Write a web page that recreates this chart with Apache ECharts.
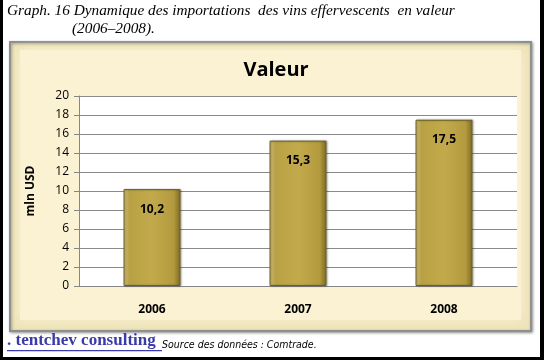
<!DOCTYPE html>
<html>
<head>
<meta charset="utf-8">
<script src="https://cdn.jsdelivr.net/npm/echarts@6/dist/echarts.min.js"></script>
<style>
html,body{margin:0;padding:0;background:#fff;}
#c{width:544px;height:360px;}
</style>
</head>
<body>
<div id="c"></div>
<script>
const categories = ['2006', '2007', '2008'];
const values = [10.2, 15.3, 17.5];
const valueLabels = ['10,2', '15,3', '17,5'];
const yTicks = [0, 2, 4, 6, 8, 10, 12, 14, 16, 18, 20];

const chart = echarts.init(document.getElementById('c'), null, {renderer: 'canvas'});
const barColor = {
  type: 'linear', x: 0, y: 0, x2: 1, y2: 0,
  colorStops: [
    {offset: 0, color: '#d6c583'},
    {offset: 0.1, color: '#b8a044'},
    {offset: 0.5, color: '#c2aa4c'},
    {offset: 0.88, color: '#b39a3e'},
    {offset: 1, color: '#7d6b24'}
  ]
};
const option = {
  animation: false,
  graphic: [
    // outer black frame
    {type: 'rect', z: 0, shape: {x: 0, y: 0, width: 3, height: 360}, style: {fill: '#000'}},
    {type: 'rect', z: 0, shape: {x: 540, y: 0, width: 4, height: 360}, style: {fill: '#000'}},
    {type: 'rect', z: 0, shape: {x: 0, y: 357, width: 544, height: 3}, style: {fill: '#000'}},
    // chart panel
    {type: 'rect', z: -10, shape: {x: 10, y: 42, width: 521, height: 289},
      style: {fill: '#eee3b9', stroke: '#8e8e8e', lineWidth: 2,
        shadowBlur: 3, shadowColor: 'rgba(0,0,0,0.35)', shadowOffsetX: 1, shadowOffsetY: 1}},
    {type: 'rect', z: -9, shape: {x: 20, y: 50, width: 501, height: 270},
      style: {fill: '#faf2d2', shadowBlur: 10, shadowColor: '#faf2d2'}},
    // top caption
    {type: 'text', left: 7, top: 3, style: {text: 'Graph. 16 Dynamique des importations  des vins effervescents  en valeur',
      font: 'italic 15.3px "Liberation Serif"', fill: '#000'}},
    {type: 'text', left: 72, top: 21, style: {text: '(2006\u20132008).',
      font: 'italic 15.3px "Liberation Serif"', fill: '#000'}},
    // footer
    {type: 'text', left: 7, top: 332, style: {text: '. tentchev consulting',
      font: 'bold 17px "Liberation Serif"', fill: '#3a3aa8'}},
    {type: 'rect', left: 7, top: 350, shape: {x: 0, y: 0, width: 155, height: 1.3}, style: {fill: '#3a3aa8'}},
    {type: 'text', left: 162, top: 340, style: {text: 'Source des données : Comtrade.',
      font: 'italic 10.5px "DejaVu Sans Condensed", "DejaVu Sans"', fill: '#000'}}
  ],
  title: {
    text: 'Valeur', left: 271, top: 55, textAlign: 'center',
    textStyle: {fontFamily: 'Open Sans', fontWeight: 'bold', fontSize: 20, color: '#000'}
  },
  grid: {left: 79, right: 27, top: 96, bottom: 74, show: true, backgroundColor: '#fff', borderWidth: 0},
  xAxis: {
    type: 'category', data: categories,
    axisLine: {show: true, lineStyle: {color: '#868686'}},
    axisTick: {show: false},
    axisLabel: {margin: 18, fontFamily: 'Open Sans', fontWeight: 'bold', fontSize: 12, color: '#000'}
  },
  yAxis: {
    type: 'value', min: 0, max: 20, interval: 2,
    name: 'mln USD', nameLocation: 'middle', nameGap: 42, nameRotate: 90,
    nameTextStyle: {fontFamily: 'Open Sans', fontWeight: 'bold', fontSize: 12, color: '#000'},
    axisLine: {show: true, lineStyle: {color: '#868686'}},
    axisTick: {show: true, inside: false, length: 5, lineStyle: {color: '#868686'}},
    axisLabel: {margin: 10, fontFamily: 'Open Sans', fontSize: 12, color: '#000',
      formatter: v => yTicks.includes(v) ? String(v) : ''},
    splitLine: {lineStyle: {color: '#8a8a8a', width: 1}}
  },
  series: [{
    type: 'bar', data: values, barWidth: '39%',
    itemStyle: {color: barColor, borderColor: '#6e5f20', borderWidth: 1,
      shadowBlur: 2, shadowColor: 'rgba(0,0,0,0.3)', shadowOffsetX: 1, shadowOffsetY: 0},
    label: {show: true, position: 'insideTop', distance: 14,
      formatter: p => valueLabels[p.dataIndex],
      fontFamily: 'Open Sans', fontWeight: 'bold', fontSize: 12, color: '#000'}
  }]
};
chart.setOption(option);
</script>
</body>
</html>
